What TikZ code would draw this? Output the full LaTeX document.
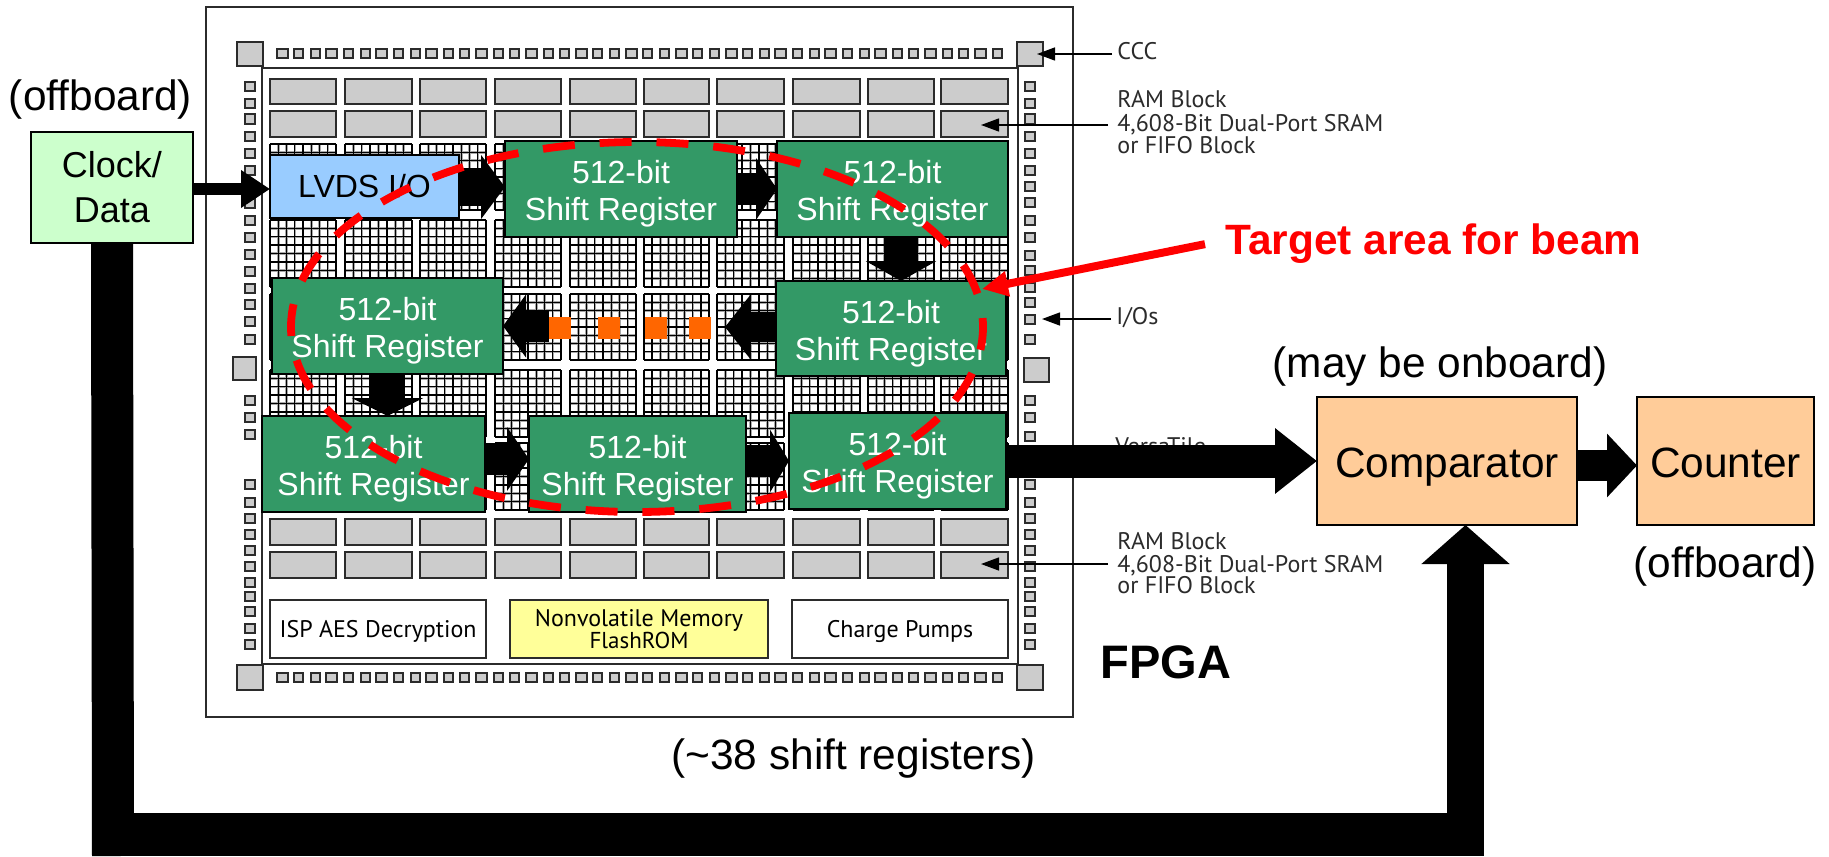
\documentclass[tikz,border=0pt]{standalone}
\usepackage{fontspec}
\setmainfont{Liberation Sans}
\newfontfamily\chipfont{PT Sans}
\usetikzlibrary{arrows.meta}
\definecolor{srgreen}{HTML}{339966}
\definecolor{lvdsblue}{HTML}{99CCFF}
\definecolor{clockgreen}{HTML}{CCFFCC}
\definecolor{peach}{HTML}{FFCC99}
\definecolor{nvyellow}{HTML}{FFFF99}
\definecolor{ramgray}{HTML}{CCCCCC}
\definecolor{chipline}{HTML}{2B2B2B}
\definecolor{halo}{HTML}{A8A8A8}
\definecolor{dotorange}{HTML}{FF6600}
\definecolor{beamred}{HTML}{FF0000}
\newcommand{\bx}[7]{%
  \pgfmathsetmacro\bw{(#4-#2)*0.5}\pgfmathsetmacro\bh{(#5-#3)*0.5}%
  \node[#6,minimum width=\bw pt,minimum height=\bh pt] (#1) at ({(#2+#4)/2},{(#3+#5)/2}) {#7};}
\newcommand{\srtext}{\rule{0pt}{1.04em}512-bit\\Shift Register}
\newcommand{\rct}[4]{\draw[chipcell] (#1,#2) rectangle (#3,#4);}
\tikzset{
  chipcell/.style={draw=chipline,fill=ramgray,line width=1pt},
  gridhalo/.style={draw=halo,line width=1.25pt},
  gridline/.style={draw=black,line width=0.65pt},
  srbox/.style={draw=black,fill=srgreen,line width=1pt,inner sep=0pt,outer sep=0pt,text=white,align=center,
    font=\fontsize{16}{18.5}\selectfont},
  lvdsbox/.style={draw=black,fill=lvdsblue,line width=1pt,inner sep=0pt,outer sep=0pt,font=\fontsize{16}{18}\selectfont},
  clockbox/.style={draw=black,fill=clockgreen,line width=0.8pt,inner sep=0pt,outer sep=0pt,align=center,
    font=\fontsize{18}{22.5}\selectfont},
  peachbox/.style={draw=black,fill=peach,line width=0.9pt,inner sep=0pt,outer sep=0pt,text height=16.5pt,text depth=0.5pt,
    font=\fontsize{21.2}{25}\selectfont},
  chipbox/.style={draw=chipline,line width=1pt,inner sep=0pt,outer sep=0pt,align=center,chipfontstyle},
  chipfontstyle/.style={font=\chipfont\fontsize{12}{11}\selectfont},
  chiplabel/.style={anchor=base west,inner sep=0pt,text=chipline,font=\chipfont\fontsize{12}{12}\selectfont},
  biglabel/.style={anchor=base,inner sep=0pt,font=\fontsize{21.2}{25}\selectfont},
  boldlabel/.style={anchor=base west,inner sep=0pt,font=\bfseries\fontsize{21.2}{25}\selectfont},
  dotbox/.style={fill=dotorange,inner sep=0pt,outer sep=0pt,minimum size=11pt},
  blockarrow/.style n args={3}{draw=black,line width=#1,-{Triangle[length=#2,width=#3]}},
  leader/.style={draw=black,line width=0.7pt,-{Triangle[length=9pt,width=6.5pt]}},
  beamring/.style={draw=beamred,line width=3.9pt,dash pattern=on 16pt off 12.45pt,dash phase=4.5pt}
}
\begin{document}
\begin{tikzpicture}[x=0.5pt,y=-0.5pt]
\useasboundingbox (0,0) rectangle (1829,856);
\fill[white] (0,0) rectangle (1829,856);
% chip frame
\draw[chipline,line width=1pt] (206,7.5) rectangle (1073,717);
\draw[chipline,line width=1pt] (262,68) rectangle (1018,664);
% corner and side blocks
\rct{237}{42}{262.5}{66}
\rct{1017}{42}{1043}{66}
\rct{237}{665}{263}{690}
\rct{1017}{665}{1043}{690}
\rct{233}{357}{256}{380}
\rct{1024}{358}{1049}{382}
% I/O pads, top and bottom
\foreach \i in {0,...,43}{
  \pgfmathsetmacro\px{282+\i*16.63}
  \pgfmathsetmacro\hw{mod(\i,3)==0?5.5:4.5}
  \draw[chipcell] (\px-\hw,49.5) rectangle (\px+\hw,58.5);
  \draw[chipcell] (\px-\hw,672.5) rectangle (\px+\hw,681.5);
}
% I/O pads, sides
\foreach \py in {87,104,119,136,153,170,203,220,237,254,271,288,304,321,339,400,417,434,484,502,518,534,550,566,582,596,611,628,644}{
  \draw[chipcell] (245,\py-4.5) rectangle (255,\py+4.5);
}
\foreach \py in {87,104,119,136,153,170,186,202,220,237,255,270,287,302,319,339,400,417,436,484,502,518,534,550,566,582,596,611,628,644}{
  \draw[chipcell] (1025,\py-4.5) rectangle (1035,\py+4.5);
}
% logic fabric
\foreach \xa/\xb in {270/336,345/412,420/486,495/561,570/636,644/709,717/784,793/860,868/934,941/1008}{
  \foreach \ya/\yb in {144/210,220/287,294/360,370/437,443/510}{
    \foreach \k in {0,...,8}{
      \draw[gridhalo] ({\xa+(\xb-\xa)*\k/8},\ya) -- ({\xa+(\xb-\xa)*\k/8},\yb);
      \draw[gridhalo] (\xa,{\ya+(\yb-\ya)*\k/8}) -- (\xb,{\ya+(\yb-\ya)*\k/8});
    }
    \foreach \k in {0,...,8}{
      \draw[gridline] ({\xa+(\xb-\xa)*\k/8},\ya) -- ({\xa+(\xb-\xa)*\k/8},\yb);
      \draw[gridline] (\xa,{\ya+(\yb-\ya)*\k/8}) -- (\xb,{\ya+(\yb-\ya)*\k/8});
    }
  }
}
% RAM blocks
\foreach \xa/\xb in {270/336,345/412,420/486,495/561,570/636,644/709,717/784,793/860,868/934,941/1008}{
  \foreach \ya/\yb in {79/104,111/137,519/545,552/578}{
    \draw[chipcell] (\xa,\ya) rectangle (\xb,\yb);
  }
}
% bottom blocks
\bx{isp}{270}{600}{486}{658}{chipbox,fill=white}{\rule{0pt}{10.7pt}ISP AES Decryption}
\bx{nvm}{510}{600}{768}{658}{chipbox,fill=nvyellow}{Nonvolatile Memory\\{\chipfont\fontsize{11.5}{11}\selectfont FlashROM}}
\bx{pumps}{792}{600}{1008}{658}{chipbox,fill=white}{\rule{0pt}{10.7pt}Charge Pumps}
% annotation labels of the chip
\node[chiplabel] (lblccc) at (1117,60) {CCC};
\node[chiplabel] (lblram1a) at (1117,108) {RAM Block};
\node[chiplabel] (lblram1b) at (1117,132) {4,608-Bit Dual-Port SRAM};
\node[chiplabel] (lblram1c) at (1117,154) {or FIFO Block};
\node[chiplabel] (lblio) at (1116,324) {I/Os};
\node[chiplabel] (lblversa) at (1115,454) {VersaTile};
\node[chiplabel] (lblram2a) at (1117,549) {RAM Block};
\node[chiplabel] (lblram2b) at (1117,572) {4,608-Bit Dual-Port SRAM};
\node[chiplabel] (lblram2c) at (1117,593) {or FIFO Block};
\coordinate (ccctip) at (1037,54);
\coordinate (ram1tip) at (981,125);
\coordinate (iotip) at (1042,319);
\coordinate (ram2tip) at (981,564);
\draw[leader] ([xshift=-2.5pt]lblccc.west |- ccctip) -- (ccctip);
\draw[leader] ([xshift=-4.5pt]lblram1b.west |- ram1tip) -- (ram1tip);
\draw[leader] ([xshift=-2.5pt]lblio.west |- iotip) -- (iotip);
\draw[leader] ([xshift=-4.5pt]lblram2b.west |- ram2tip) -- (ram2tip);
% main boxes
\bx{clock}{31}{132}{193}{243}{clockbox}{Clock/\\Data}
\bx{lvds}{270}{155}{459}{218}{lvdsbox}{LVDS I/O}
\bx{srA}{505}{141}{737}{237}{srbox}{\srtext}
\bx{srB}{777}{141}{1008}{237}{srbox}{\srtext}
\bx{srC}{776}{281}{1006}{376}{srbox}{\srtext}
\bx{srD}{272}{278}{503}{374}{srbox}{\srtext}
\bx{srE}{262}{416}{485}{512}{srbox}{\srtext}
\bx{srF}{529}{416}{746}{512}{srbox}{\srtext}
\bx{srG}{789}{413}{1006}{509}{srbox}{\srtext}
\bx{comp}{1317}{397}{1577}{525}{peachbox}{Comparator}
\bx{count}{1637}{397}{1814}{525}{peachbox}{Counter}
% orange dots
\node[dotbox] (dotA) at (560,328) {};
\node[dotbox] (dotB) at (609,328) {};
\node[dotbox] (dotC) at (656,328) {};
\node[dotbox] (dotD) at (700,328) {};
\coordinate (dotsend) at (725,327);
% block arrows
\draw[blockarrow={6pt}{14.5pt}{18pt}] ([yshift=-0.75pt]clock.east) -- ([yshift=-1.25pt]lvds.west);
\draw[blockarrow={19pt}{12pt}{31.5pt}] ([yshift=-0.25pt]lvds.east) -- ([yshift=1pt]srA.west);
\draw[blockarrow={16pt}{10.5pt}{30.5pt}] (srA.east) -- (srB.west);
\draw[blockarrow={17pt}{10pt}{35pt}] ([xshift=4.25pt]srB.south) -- ([xshift=5pt]srC.north);
\draw[blockarrow={15pt}{12.5pt}{31pt}] ([yshift=0.75pt]srC.west) -- (dotsend);
\draw[blockarrow={16pt}{11.5pt}{31pt}] ([yshift=1pt]dotA.west) -- (srD.east);
\draw[blockarrow={17.5pt}{9pt}{35.5pt}] (srD.south) -- ([xshift=7pt]srE.north);
\draw[blockarrow={16pt}{11pt}{31.5pt}] ([yshift=2.5pt]srE.east) -- ([yshift=2.5pt]srF.west);
\draw[blockarrow={16pt}{9.5pt}{31pt}] ([yshift=1.5pt]srF.east) -- (srG.west);
\draw[blockarrow={16.5pt}{21pt}{31.5pt}] (srG.east) -- ([yshift=0pt]comp.west);
\draw[blockarrow={15.5pt}{15pt}{31pt}] ([yshift=-2.25pt]comp.east) -- ([yshift=-2.25pt]count.west);
% feedback loop
\coordinate (fbleft) at (113,856);
\coordinate (fbbandL) at (92,834.5);
\coordinate (fbbandR) at (1484,834.5);
\coordinate (fbright) at (1465.5,813);
\draw[black,line width=21pt] (clock.south) -- (fbleft);
\draw[black,line width=21.5pt] (fbbandL) -- (fbbandR);
\draw[blockarrow={18.5pt}{19.5pt}{43pt}] (fbright) -- ([xshift=9.25pt]comp.south);
% beam target ring
\draw[beamring] (637,327) ellipse [x radius=346,y radius=185];
% labels
\node[biglabel] (offA) at (100.5,111) {(offboard)};
\node[biglabel] (offB) at (1725,577) {(offboard)};
\node[biglabel] (onb) at (1440,377) {(may be onboard)};
\node[biglabel] (sh38) at (853.5,769) {(\textasciitilde38 shift registers)};
\node[boldlabel,text=beamred] (target) at (1225,254) {Target area for beam};
\node[boldlabel,font=\bfseries\fontsize{23.5}{26}\selectfont] (fpga) at (1100,678) {FPGA};
\coordinate (beamtip) at (982,289);
\draw[draw=beamred,line width=4pt,-{Triangle[length=13pt,width=12pt]}] ([xshift=-10pt,yshift=-0.5pt]target.west) -- (beamtip);
\end{tikzpicture}
\end{document}
